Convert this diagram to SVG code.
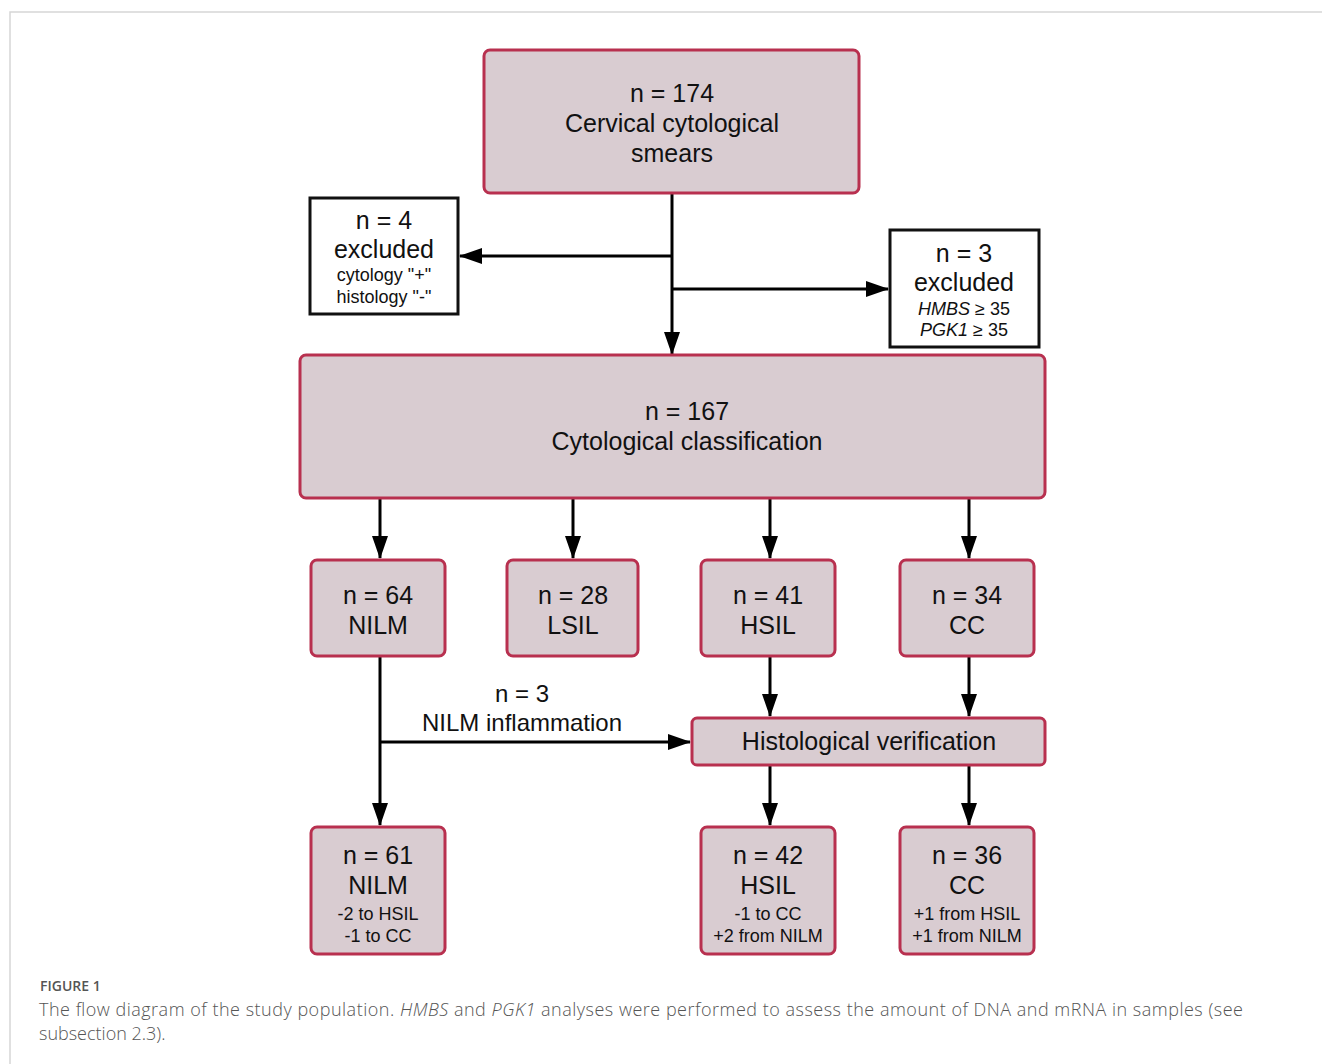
<svg xmlns="http://www.w3.org/2000/svg" width="1322" height="1064" viewBox="0 0 1322 1064">
<style>
.frame{fill:none;stroke:#d6d6d6;stroke-width:1.5}
.node{fill:#d9ccd1;stroke:#b8304f;stroke-width:3}
.ex{fill:#fff;stroke:#111;stroke-width:3}
.t{font-family:"Liberation Sans",Arial,sans-serif;font-size:25px;fill:#111;text-anchor:middle}
.l{font-family:"Liberation Sans",Arial,sans-serif;font-size:24px;fill:#111;text-anchor:middle}
.s{font-family:"Liberation Sans",Arial,sans-serif;font-size:18px;fill:#111;text-anchor:middle}
.c{stroke:#000;stroke-width:3;fill:none}
.cap{font-family:"Open Sans","Liberation Sans",sans-serif;fill:#555}
</style>
<defs>
<marker id="ah" markerWidth="24" markerHeight="16" refX="22" refY="8" orient="auto" markerUnits="userSpaceOnUse">
<path d="M0,0 L23,8 L0,16 Z" fill="#000"/>
</marker>
</defs>
<rect width="1322" height="1064" fill="#fff"/>
<path class="frame" d="M1322,12 H10 V1064"/>
<g id="connectors">
<path class="c" d="M672,193 V354" marker-end="url(#ah)"/>
<path class="c" d="M672,256 H460" marker-end="url(#ah)"/>
<path class="c" d="M672,289 H888" marker-end="url(#ah)"/>
<path class="c" d="M380,498 V558" marker-end="url(#ah)"/>
<path class="c" d="M573,498 V558" marker-end="url(#ah)"/>
<path class="c" d="M770,498 V558" marker-end="url(#ah)"/>
<path class="c" d="M969,498 V558" marker-end="url(#ah)"/>
<path class="c" d="M770,656 V716" marker-end="url(#ah)"/>
<path class="c" d="M969,656 V716" marker-end="url(#ah)"/>
<path class="c" d="M380,656 V825" marker-end="url(#ah)"/>
<path class="c" d="M380,742 H690" marker-end="url(#ah)"/>
<path class="c" d="M770,765 V825" marker-end="url(#ah)"/>
<path class="c" d="M969,765 V825" marker-end="url(#ah)"/>
<text class="l" x="522" y="702">n = 3</text>
<text class="l" x="522" y="731">NILM inflammation</text>
</g>
<g id="n174">
<rect class="node" x="484" y="50" width="375" height="143" rx="6"/>
<text class="t" x="672" y="102">n = 174</text>
<text class="t" x="672" y="132">Cervical cytological</text>
<text class="t" x="672" y="162">smears</text>
</g>
<g id="excl4">
<rect class="ex" x="310" y="198" width="148" height="116"/>
<text class="t" x="384" y="229">n = 4</text>
<text class="t" x="384" y="258">excluded</text>
<text class="s" x="384" y="281">cytology "+"</text>
<text class="s" x="384" y="303">histology "-"</text>
</g>
<g id="excl3">
<rect class="ex" x="890" y="230" width="149" height="117"/>
<text class="t" x="964" y="262">n = 3</text>
<text class="t" x="964" y="291">excluded</text>
<text class="s" x="964" y="315"><tspan font-style="italic">HMBS</tspan> ≥ 35</text>
<text class="s" x="964" y="336"><tspan font-style="italic">PGK1</tspan> ≥ 35</text>
</g>
<g id="n167">
<rect class="node" x="300" y="355" width="745" height="143" rx="6"/>
<text class="t" x="687" y="420">n = 167</text>
<text class="t" x="687" y="450">Cytological classification</text>
</g>
<g id="nilm64">
<rect class="node" x="311" y="560" width="134" height="96" rx="6"/>
<text class="t" x="378" y="604">n = 64</text>
<text class="t" x="378" y="634">NILM</text>
</g>
<g id="lsil28">
<rect class="node" x="507" y="560" width="131" height="96" rx="6"/>
<text class="t" x="573" y="604">n = 28</text>
<text class="t" x="573" y="634">LSIL</text>
</g>
<g id="hsil41">
<rect class="node" x="701" y="560" width="134" height="96" rx="6"/>
<text class="t" x="768" y="604">n = 41</text>
<text class="t" x="768" y="634">HSIL</text>
</g>
<g id="cc34">
<rect class="node" x="900" y="560" width="134" height="96" rx="6"/>
<text class="t" x="967" y="604">n = 34</text>
<text class="t" x="967" y="634">CC</text>
</g>
<g id="histo">
<rect class="node" x="692" y="718" width="353" height="47" rx="5"/>
<text class="t" x="869" y="750">Histological verification</text>
</g>
<g id="nilm61">
<rect class="node" x="311" y="827" width="134" height="127" rx="6"/>
<text class="t" x="378" y="864">n = 61</text>
<text class="t" x="378" y="894">NILM</text>
<text class="s" x="378" y="920">-2 to HSIL</text>
<text class="s" x="378" y="942">-1 to CC</text>
</g>
<g id="hsil42">
<rect class="node" x="701" y="827" width="134" height="127" rx="6"/>
<text class="t" x="768" y="864">n = 42</text>
<text class="t" x="768" y="894">HSIL</text>
<text class="s" x="768" y="920">-1 to CC</text>
<text class="s" x="768" y="942">+2 from NILM</text>
</g>
<g id="cc36">
<rect class="node" x="900" y="827" width="134" height="127" rx="6"/>
<text class="t" x="967" y="864">n = 36</text>
<text class="t" x="967" y="894">CC</text>
<text class="s" x="967" y="920">+1 from HSIL</text>
<text class="s" x="967" y="942">+1 from NILM</text>
</g>
<g id="caption">
<text class="cap" x="40" y="991" font-size="14" font-weight="600">FIGURE 1</text>
<text class="cap" x="39" y="1016" font-size="18" font-weight="300" textLength="1204" lengthAdjust="spacing">The flow diagram of the study population. <tspan font-style="italic">HMBS</tspan> and <tspan font-style="italic">PGK1</tspan> analyses were performed to assess the amount of DNA and mRNA in samples (see</text>
<text class="cap" x="39" y="1040" font-size="18" font-weight="300">subsection 2.3).</text>
</g>
</svg>
